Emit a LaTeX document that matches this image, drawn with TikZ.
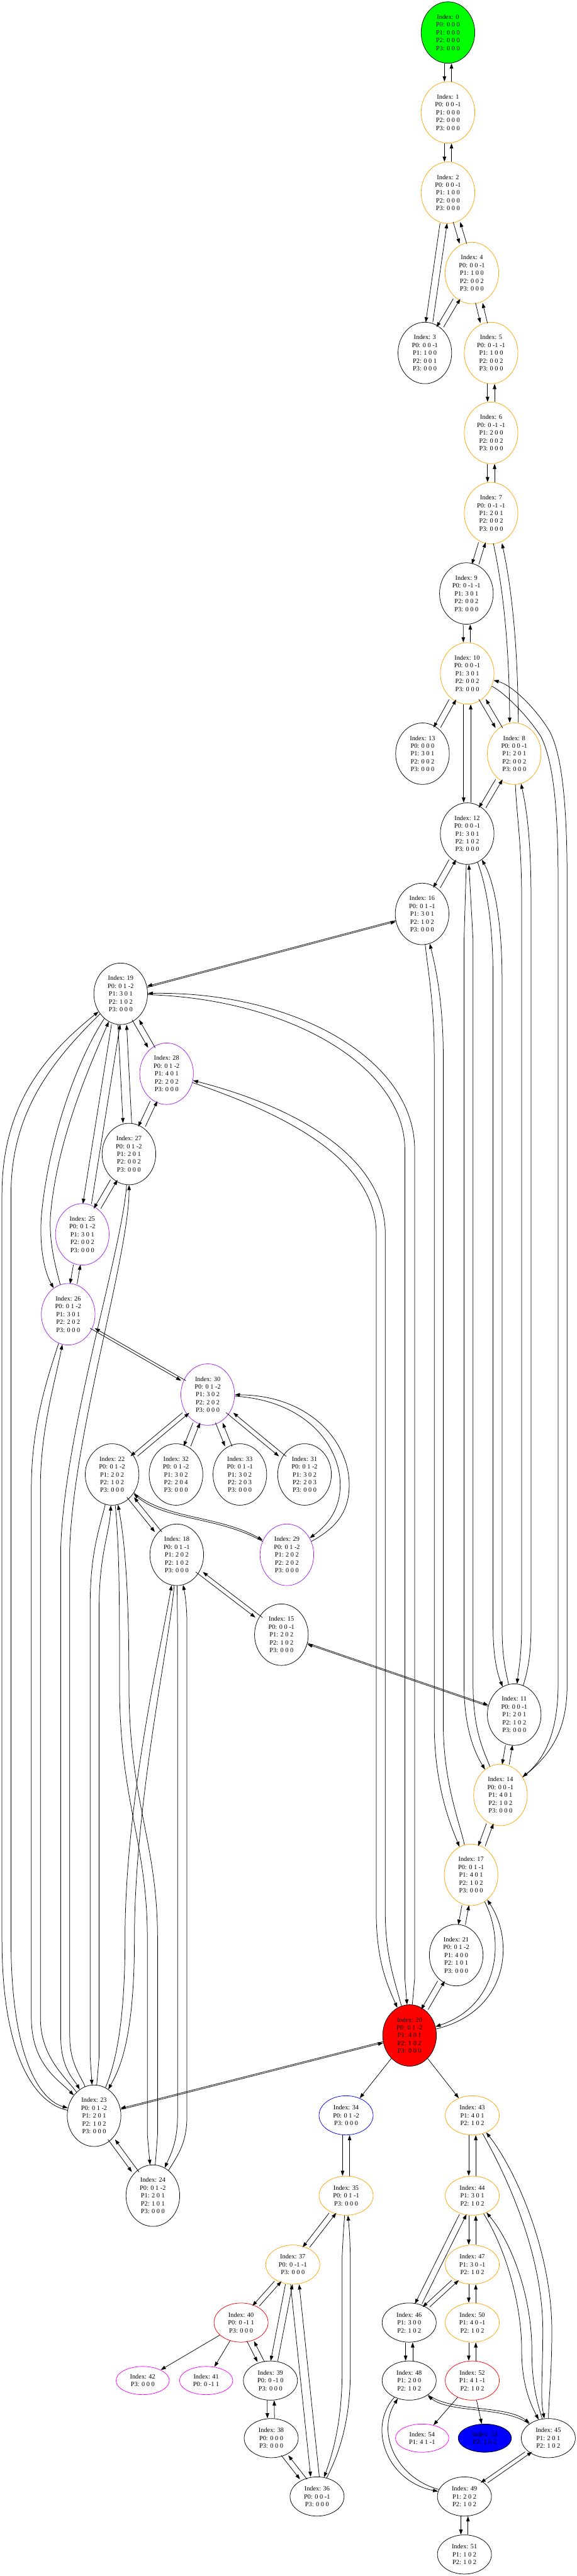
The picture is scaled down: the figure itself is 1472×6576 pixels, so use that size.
\documentclass[tikz,border=0pt]{standalone}
\usepackage{fontspec}
\setmainfont{Liberation Serif}
\usetikzlibrary{arrows.meta,shapes.geometric}
\definecolor{gvorange}{HTML}{FFA500}
\definecolor{gvpurple}{HTML}{A020F0}
\definecolor{gvgreen}{HTML}{00FF00}
\definecolor{gvblue}{HTML}{0000FF}
\definecolor{gvred}{HTML}{FF0000}
\definecolor{gvmagenta}{HTML}{FF00FF}
\newcommand{\bip}[2]{\draw[e,lft] (#1) -- (#2); \draw[e,rgt] (#2) -- (#1);}
\newcommand{\bipw}[2]{\draw[e,wlft] (#1) -- (#2); \draw[e,wrgt] (#2) -- (#1);}
\newcommand{\bipy}[2]{\draw[e,upp] (#1) -- (#2); \draw[e,dwn] (#2) -- (#1);}
\newcommand{\bipn}[2]{\draw[e,nlft] (#1) -- (#2); \draw[e,nrgt] (#2) -- (#1);}
\begin{document}
\begin{tikzpicture}[x=0.5pt,y=-0.5pt,
  nd/.style={ellipse, draw, line width=0.6pt, inner sep=0pt, align=center, font=\fontsize{8.3}{10}\selectfont},
  n5/.style={nd, minimum width=68.5pt, minimum height=78.5pt},
  n3/.style={nd, minimum width=69pt, minimum height=50pt},
  n2/.style={nd, minimum width=68pt, minimum height=36pt},
  e/.style={-{Triangle[length=6.5pt,width=4.5pt]}, line width=0.6pt},
  lft/.style={transform canvas={xshift=-4.5pt}},
  rgt/.style={transform canvas={xshift=4.5pt}},
  wlft/.style={transform canvas={xshift=-5.5pt}},
  wrgt/.style={transform canvas={xshift=5.5pt}},
  nlft/.style={transform canvas={xshift=-3pt}},
  nrgt/.style={transform canvas={xshift=3pt}},
  upp/.style={transform canvas={yshift=0.8pt}},
  dwn/.style={transform canvas={yshift=-0.8pt}}]
\path[use as bounding box, fill=white] (0,0) rectangle (1472,6576);
% ---------------- nodes
\node[n5,fill=gvgreen] (s0) at (1143,83) {Index: 0\\P0: 0 0 0\\P1: 0 0 0\\P2: 0 0 0\\P3: 0 0 0};
\node[n5,draw=gvorange] (s1) at (1143,287) {Index: 1\\P0: 0 0 -1\\P1: 0 0 0\\P2: 0 0 0\\P3: 0 0 0};
\node[n5,draw=gvorange] (s2) at (1143,492) {Index: 2\\P0: 0 0 -1\\P1: 1 0 0\\P2: 0 0 0\\P3: 0 0 0};
\node[n5,draw=gvorange] (s4) at (1204,697) {Index: 4\\P0: 0 0 -1\\P1: 1 0 0\\P2: 0 0 2\\P3: 0 0 0};
\node[n5] (s3) at (1084,901) {Index: 3\\P0: 0 0 -1\\P1: 1 0 0\\P2: 0 0 1\\P3: 0 0 0};
\node[n5,draw=gvorange] (s5) at (1253,901) {Index: 5\\P0: 0 -1 -1\\P1: 1 0 0\\P2: 0 0 2\\P3: 0 0 0};
\node[n5,draw=gvorange] (s6) at (1253,1105) {Index: 6\\P0: 0 -1 -1\\P1: 2 0 0\\P2: 0 0 2\\P3: 0 0 0};
\node[n5,draw=gvorange] (s7) at (1253,1310) {Index: 7\\P0: 0 -1 -1\\P1: 2 0 1\\P2: 0 0 2\\P3: 0 0 0};
\node[n5] (s9) at (1190,1515) {Index: 9\\P0: 0 -1 -1\\P1: 3 0 1\\P2: 0 0 2\\P3: 0 0 0};
\node[n5,draw=gvorange] (s10) at (1192,1719) {Index: 10\\P0: 0 0 -1\\P1: 3 0 1\\P2: 0 0 2\\P3: 0 0 0};
\node[n5] (s13) at (1078,1924) {Index: 13\\P0: 0 0 0\\P1: 3 0 1\\P2: 0 0 2\\P3: 0 0 0};
\node[n5,draw=gvorange] (s8) at (1312,1924) {Index: 8\\P0: 0 0 -1\\P1: 2 0 1\\P2: 0 0 2\\P3: 0 0 0};
\node[n5] (s12) at (1192,2128) {Index: 12\\P0: 0 0 -1\\P1: 3 0 1\\P2: 1 0 2\\P3: 0 0 0};
\node[n5] (s16) at (1077,2333) {Index: 16\\P0: 0 1 -1\\P1: 3 0 1\\P2: 1 0 2\\P3: 0 0 0};
\node[n5] (s19) at (308,2537) {Index: 19\\P0: 0 1 -2\\P1: 3 0 1\\P2: 1 0 2\\P3: 0 0 0};
\node[n5,draw=gvpurple] (s28) at (425,2741) {Index: 28\\P0: 0 1 -2\\P1: 4 0 1\\P2: 2 0 2\\P3: 0 0 0};
\node[n5] (s27) at (329,2946) {Index: 27\\P0: 0 1 -2\\P1: 2 0 1\\P2: 0 0 2\\P3: 0 0 0};
\node[n5,draw=gvpurple] (s25) at (210,3151) {Index: 25\\P0: 0 1 -2\\P1: 3 0 1\\P2: 0 0 2\\P3: 0 0 0};
\node[n5,draw=gvpurple] (s26) at (174,3355) {Index: 26\\P0: 0 1 -2\\P1: 3 0 1\\P2: 2 0 2\\P3: 0 0 0};
\node[n5,draw=gvpurple] (s30) at (530,3560) {Index: 30\\P0: 0 1 -2\\P1: 3 0 2\\P2: 2 0 2\\P3: 0 0 0};
\node[n5] (s22) at (286,3764) {Index: 22\\P0: 0 1 -2\\P1: 2 0 2\\P2: 1 0 2\\P3: 0 0 0};
\node[n5] (s32) at (449,3764) {Index: 32\\P0: 0 1 -2\\P1: 3 0 2\\P2: 2 0 4\\P3: 0 0 0};
\node[n5] (s33) at (612,3764) {Index: 33\\P0: 0 1 -1\\P1: 3 0 2\\P2: 2 0 3\\P3: 0 0 0};
\node[n5] (s31) at (777,3764) {Index: 31\\P0: 0 1 -2\\P1: 3 0 2\\P2: 2 0 3\\P3: 0 0 0};
\node[n5] (s18) at (451,3969) {Index: 18\\P0: 0 1 -1\\P1: 2 0 2\\P2: 1 0 2\\P3: 0 0 0};
\node[n5,draw=gvpurple] (s29) at (732,3969) {Index: 29\\P0: 0 1 -2\\P1: 2 0 2\\P2: 2 0 2\\P3: 0 0 0};
\node[n5] (s15) at (718,4173) {Index: 15\\P0: 0 0 -1\\P1: 2 0 2\\P2: 1 0 2\\P3: 0 0 0};
\node[n5] (s11) at (1312,4377) {Index: 11\\P0: 0 0 -1\\P1: 2 0 1\\P2: 1 0 2\\P3: 0 0 0};
\node[n5,draw=gvorange] (s14) at (1277,4582) {Index: 14\\P0: 0 0 -1\\P1: 4 0 1\\P2: 1 0 2\\P3: 0 0 0};
\node[n5,draw=gvorange] (s17) at (1202,4786) {Index: 17\\P0: 0 1 -1\\P1: 4 0 1\\P2: 1 0 2\\P3: 0 0 0};
\node[n5] (s21) at (1164,4991) {Index: 21\\P0: 0 1 -2\\P1: 4 0 0\\P2: 1 0 1\\P3: 0 0 0};
\node[n5,fill=gvred] (s20) at (1045,5196) {Index: 20\\P0: 0 1 -2\\P1: 4 0 1\\P2: 1 0 2\\P3: 0 0 0};
\node[n5] (s23) at (240,5401) {Index: 23\\P0: 0 1 -2\\P1: 2 0 1\\P2: 1 0 2\\P3: 0 0 0};
\node[n5] (s24) at (390,5605) {Index: 24\\P0: 0 1 -2\\P1: 2 0 1\\P2: 1 0 1\\P3: 0 0 0};
\node[n3,draw=gvblue] (s34) at (883,5400) {Index: 34\\P0: 0 1 -2\\P3: 0 0 0};
\node[n3,draw=gvorange] (s43) at (1205,5400) {Index: 43\\P1: 4 0 1\\P2: 1 0 2};
\node[n3,draw=gvorange] (s35) at (883,5605) {Index: 35\\P0: 0 1 -1\\P3: 0 0 0};
\node[n3,draw=gvorange] (s44) at (1205,5605) {Index: 44\\P1: 3 0 1\\P2: 1 0 2};
\node[n3,draw=gvorange] (s37) at (747,5781) {Index: 37\\P0: 0 -1 -1\\P3: 0 0 0};
\node[n3,draw=gvorange] (s47) at (1205,5781) {Index: 47\\P1: 3 0 -1\\P2: 1 0 2};
\node[n3,draw=gvred] (s40) at (615,5929) {Index: 40\\P0: 0 -1 1\\P3: 0 0 0};
\node[n3] (s46) at (1044,5929) {Index: 46\\P1: 3 0 0\\P2: 1 0 2};
\node[n3,draw=gvorange] (s50) at (1205,5929) {Index: 50\\P1: 4 0 -1\\P2: 1 0 2};
\node[n2,draw=gvmagenta] (s42) at (364,6077) {Index: 42\\P3: 0 0 0};
\node[n2,draw=gvmagenta] (s41) at (526,6077) {Index: 41\\P0: 0 -1 1};
\node[n3] (s39) at (690,6077) {Index: 39\\P0: 0 -1 0\\P3: 0 0 0};
\node[n3] (s48) at (1044,6077) {Index: 48\\P1: 2 0 0\\P2: 1 0 2};
\node[n3,draw=gvred] (s52) at (1205,6077) {Index: 52\\P1: 4 1 -1\\P2: 1 0 2};
\node[n3] (s38) at (692,6224) {Index: 38\\P0: 0 0 0\\P3: 0 0 0};
\node[n2,draw=gvmagenta] (s54) at (1077,6224) {Index: 54\\P1: 4 1 -1};
\node[n2,fill=gvblue] (s53) at (1237,6224) {Index: 53\\P2: 1 0 2};
\node[n3] (s45) at (1399,6224) {Index: 45\\P1: 2 0 1\\P2: 1 0 2};
\node[n3] (s36) at (809,6373) {Index: 36\\P0: 0 0 -1\\P3: 0 0 0};
\node[n3] (s49) at (1185,6373) {Index: 49\\P1: 2 0 2\\P2: 1 0 2};
\node[n3] (s51) at (1185,6521) {Index: 51\\P1: 1 0 2\\P2: 1 0 2};
% ---------------- edges: upper chain
\bip{s0}{s1}
\bip{s1}{s2}
\bip{s2}{s3}
\bip{s2}{s4}
\bip{s4}{s3}
\bip{s4}{s5}
\bip{s5}{s6}
\bip{s6}{s7}
\bip{s7}{s9}
\draw[e,wlft] (s7) .. controls (1290,1480) and (1310,1620) .. (s8);
\draw[e,wrgt] (s8) .. controls (1310,1620) and (1290,1480) .. (s7);
\bip{s9}{s10}
\bip{s10}{s13}
\bip{s10}{s8}
\bip{s10}{s12}
\bip{s8}{s12}
\bip{s12}{s16}
% 10 <-> 14
\draw[e] (s10) .. controls (1290,1770) and (1348,1830) .. (1380,1880) .. controls (1410,1940) and (1424,2050) .. (1424,2250) -- (1424,4300) .. controls (1424,4420) and (1390,4490) .. (s14);
\draw[e] (s14) .. controls (1405,4480) and (1447,4420) .. (1447,4300) -- (1447,2250) .. controls (1447,2040) and (1432,1925) .. (1403,1868) .. controls (1372,1815) and (1310,1750) .. (s10);
% 8 <-> 11
\draw[e] (s8) .. controls (1318,2080) and (1331,2150) .. (1331,2300) -- (1331,4150) .. controls (1331,4230) and (1322,4270) .. (s11);
\draw[e] (s11) .. controls (1345,4270) and (1355,4230) .. (1355,4150) -- (1355,2300) .. controls (1355,2150) and (1345,2070) .. (s8);
% 12 <-> 11
\draw[e] (s12) .. controls (1240,2260) and (1258,2350) .. (1258,2500) -- (1258,4150) .. controls (1258,4240) and (1272,4280) .. (s11);
\draw[e] (s11) .. controls (1292,4270) and (1281,4240) .. (1281,4150) -- (1281,2500) .. controls (1281,2330) and (1255,2240) .. (s12);
% 12 <-> 14
\draw[e] (s12) -- (1184,2400) -- (1184,4300) .. controls (1184,4420) and (1215,4480) .. (s14);
\draw[e] (s14) .. controls (1235,4470) and (1207,4420) .. (1207,4300) -- (1207,2400) -- (s12);
% 16 <-> 17
\draw[e] (s16) .. controls (1092,2480) and (1108,2560) .. (1108,2700) -- (1108,4400) .. controls (1108,4560) and (1150,4660) .. (s17);
\draw[e] (s17) .. controls (1172,4650) and (1131,4550) .. (1131,4400) -- (1131,2700) .. controls (1131,2560) and (1112,2470) .. (s16);
\bipy{s16}{s19}
% ---------------- left cluster
\bip{s19}{s28}
\bip{s28}{s27}
\bip{s27}{s25}
\bip{s25}{s26}
\bipw{s19}{s27}
\bipw{s19}{s25}
% 19 <-> 20
\draw[e] (s19) .. controls (735,2550) and (1033,2720) .. (1033,2935) -- (1033,5050) -- (s20);
\draw[e] (s20) -- (1058,5050) -- (1058,2935) .. controls (1058,2700) and (745,2530) .. (s19);
% 28 <-> 20
\draw[e] (s28) .. controls (700,2835) and (960,2950) .. (960,3150) -- (960,4880) .. controls (960,5000) and (985,5060) .. (s20);
\draw[e] (s20) .. controls (1005,5050) and (983,4990) .. (983,4880) -- (983,3150) .. controls (983,2935) and (715,2815) .. (s28);
% 19 <-> 23
\draw[e] (s19) .. controls (120,2720) and (28,2850) .. (28,3050) -- (28,4950) .. controls (28,5250) and (100,5360) .. (s23);
\draw[e] (s23) .. controls (90,5370) and (5,5250) .. (5,4950) -- (5,3050) .. controls (5,2830) and (105,2700) .. (s19);
% 19 <-> 26
\draw[e] (s19) .. controls (200,2700) and (125,2900) .. (106,3100) .. controls (100,3170) and (110,3240) .. (s26);
\draw[e] (s26) .. controls (142,3235) and (124,3170) .. (129,3100) .. controls (146,2910) and (225,2730) .. (s19);
% 27 <-> 23
\draw[e] (s27) .. controls (310,3200) and (165,3650) .. (155,3950) -- (155,5200) .. controls (155,5280) and (190,5310) .. (s23);
\draw[e] (s23) .. controls (210,5305) and (178,5270) .. (178,5200) -- (178,3950) .. controls (188,3660) and (330,3200) .. (s27);
% 26 <-> 23
\draw[e] (s26) .. controls (120,3520) and (80,3640) .. (80,3800) -- (80,5150) .. controls (80,5270) and (150,5310) .. (s23);
\draw[e] (s23) .. controls (165,5300) and (103,5250) .. (103,5150) -- (103,3800) .. controls (103,3650) and (140,3530) .. (s26);
\bipn{s26}{s30}
\bip{s30}{s22}
\bip{s30}{s32}
\bip{s30}{s33}
\bip{s30}{s31}
% 30 <-> 29
\draw[e] (s30) .. controls (780,3575) and (868,3690) .. (868,3790) .. controls (868,3850) and (840,3890) .. (s29);
\draw[e] (s29) .. controls (858,3900) and (891,3860) .. (891,3790) .. controls (891,3680) and (790,3562) .. (s30);
\bip{s22}{s18}
\draw[e,upp] (s22) .. controls (420,3880) and (560,3870) .. (s29);
\draw[e,dwn] (s29) .. controls (560,3870) and (420,3880) .. (s22);
\bip{s18}{s15}
\bipy{s15}{s11}
% 22 <-> 23
\draw[e] (s22) .. controls (255,3900) and (230,3960) .. (230,4100) -- (230,5250) -- (s23);
\draw[e] (s23) -- (253,5250) -- (253,4100) .. controls (253,3970) and (280,3910) .. (s22);
% 18 <-> 23
\draw[e] (s18) .. controls (432,4200) and (343,4600) .. (343,4950) .. controls (343,5220) and (300,5290) .. (s23);
\draw[e] (s23) .. controls (285,5290) and (319,5200) .. (319,4950) .. controls (319,4600) and (410,4210) .. (s18);
% 22 <-> 24
\draw[e] (s22) .. controls (305,3950) and (305,4100) .. (305,4300) .. controls (305,4600) and (376,4700) .. (376,4950) -- (376,5450) -- (s24);
\draw[e] (s24) -- (402,5450) -- (402,4950) .. controls (402,4700) and (329,4600) .. (329,4300) .. controls (329,4100) and (322,3950) .. (s22);
% 18 <-> 24
\draw[e] (s18) -- (453,4150) -- (453,5400) .. controls (453,5470) and (435,5500) .. (s24);
\draw[e] (s24) .. controls (455,5500) and (477,5470) .. (477,5400) -- (477,4150) .. controls (477,4090) and (470,4060) .. (s18);
% ---------------- right middle
\bip{s11}{s14}
\bip{s14}{s17}
\bip{s17}{s21}
\bip{s21}{s20}
\draw[e] (s17) .. controls (1290,4960) and (1270,5120) .. (s20);
\draw[e] (s20) .. controls (1295,5135) and (1315,4960) .. (s17);
\bipy{s20}{s23}
\bip{s23}{s24}
\draw[e] (s20) -- (s34);
\draw[e] (s20) -- (s43);
% ---------------- bottom
\bip{s34}{s35}
\bip{s35}{s37}
\draw[e] (s35) .. controls (876,5700) .. (873,5760) -- (873,6050) .. controls (873,6180) and (850,6260) .. (s36);
\draw[e] (s36) .. controls (866,6262) and (894,6180) .. (894,6050) -- (894,5760) .. controls (892,5700) .. (s35);
\bipw{s37}{s36}
\bip{s37}{s40}
\bip{s37}{s39}
\bip{s40}{s39}
\draw[e] (s40) -- (s42);
\draw[e] (s40) -- (s41);
\bip{s39}{s38}
\bip{s38}{s36}
\bip{s43}{s44}
\draw[e] (s43) .. controls (1290,5550) and (1385,5750) .. (1385,5950) .. controls (1385,6060) and (1378,6120) .. (s45);
\draw[e] (s45) .. controls (1400,6120) and (1408,6060) .. (1408,5950) .. controls (1408,5740) and (1310,5530) .. (s43);
\draw[e] (s44) .. controls (1290,5740) and (1331,5880) .. (1331,6000) .. controls (1331,6080) and (1350,6130) .. (s45);
\draw[e] (s45) .. controls (1368,6125) and (1357,6080) .. (1357,6000) .. controls (1357,5870) and (1310,5730) .. (s44);
\bip{s44}{s47}
\bip{s44}{s46}
\bip{s47}{s46}
\bip{s47}{s50}
\bip{s46}{s48}
\bip{s50}{s52}
\draw[e] (s52) -- (s54);
\draw[e] (s52) -- (s53);
\draw[e,upp] (s48) .. controls (1150,6160) and (1290,6140) .. (s45);
\draw[e,dwn] (s45) .. controls (1290,6140) and (1150,6160) .. (s48);
\draw[e] (s48) .. controls (935,6200) and (990,6335) .. (s49);
\draw[e] (s49) .. controls (1010,6325) and (960,6210) .. (s48);
\bip{s45}{s49}
\bip{s49}{s51}
\end{tikzpicture}
\end{document}
